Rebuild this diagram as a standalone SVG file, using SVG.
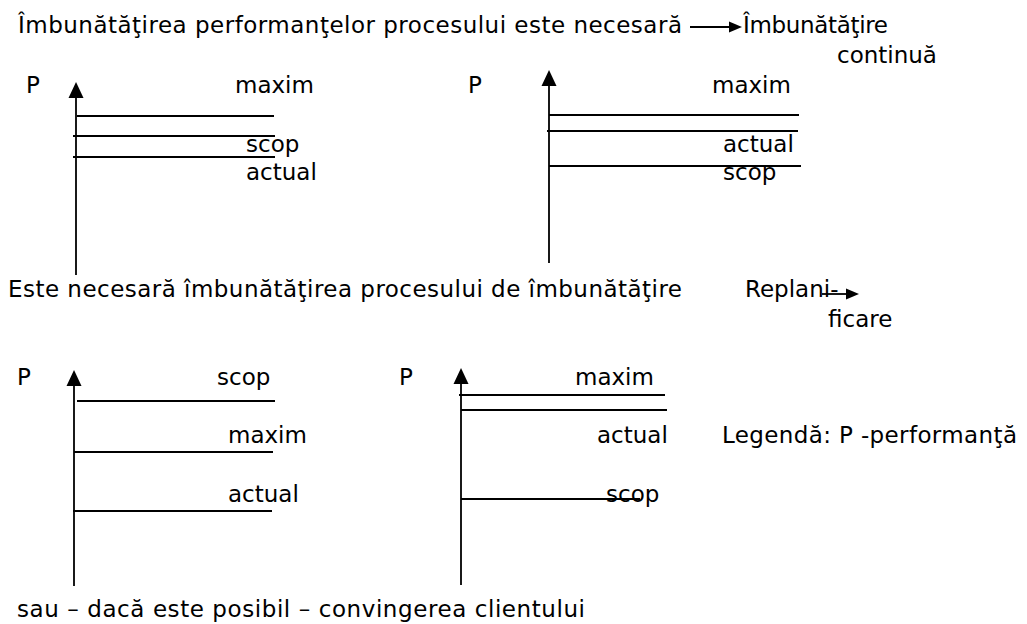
<svg xmlns="http://www.w3.org/2000/svg" width="1027" height="624" viewBox="0 0 1027 624">
<style>
text{font-family:"DejaVu Sans","Liberation Sans",sans-serif;font-size:23px;fill:#000}
.ln{stroke:#000;stroke-width:1.8;fill:none}
.ax{stroke:#000;stroke-width:1.8;fill:none;marker-end:url(#ah)}
.ar{stroke:#000;stroke-width:1.8;fill:none;marker-end:url(#sa)}
</style>
<defs>
<marker id="ah" markerUnits="userSpaceOnUse" markerWidth="16" markerHeight="15" refX="0" refY="7.5" orient="auto" overflow="visible"><path d="M0,0 L16,7.5 L0,15 z" fill="#000"/></marker>
<marker id="sa" markerUnits="userSpaceOnUse" markerWidth="13" markerHeight="11" refX="0" refY="5.5" orient="auto" overflow="visible"><path d="M0,0 L13,5.5 L0,11 z" fill="#000"/></marker>
</defs>
<rect width="1027" height="624" fill="#fff"/>

<g id="header">
<text x="18" y="33" textLength="664" lengthAdjust="spacing">Îmbunătăţirea performanţelor procesului este necesară</text>
<text x="743" y="33" textLength="145" lengthAdjust="spacing">Îmbunătăţire</text>
<text x="837" y="63">continuă</text>
</g>

<g id="chart1">
<text x="26" y="93">P</text>
<line class="ax" x1="76" y1="275" x2="76" y2="98"/>
<line class="ln" x1="77" y1="116" x2="274" y2="116"/>
<line class="ln" x1="73" y1="136" x2="275" y2="136"/>
<line class="ln" x1="73" y1="157" x2="275" y2="157"/>
<text x="235" y="93">maxim</text>
<text x="246" y="152">scop</text>
<text x="246" y="180">actual</text>
</g>

<g id="chart2">
<text x="468" y="93">P</text>
<line class="ax" x1="549" y1="263" x2="549" y2="86"/>
<line class="ln" x1="549" y1="115" x2="799" y2="115"/>
<line class="ln" x1="547" y1="131" x2="798" y2="131"/>
<line class="ln" x1="549" y1="166" x2="801" y2="166"/>
<text x="712" y="93">maxim</text>
<text x="723" y="152">actual</text>
<text x="723" y="180">scop</text>
</g>

<g id="middle">
<text x="8" y="297" textLength="674" lengthAdjust="spacing">Este necesară îmbunătăţirea procesului de îmbunătăţire</text>
<text x="745" y="297">Replani-</text>
<text x="828" y="327">ficare</text>
</g>

<g id="chart3">
<text x="17" y="385">P</text>
<line class="ax" x1="74" y1="586" x2="74" y2="386"/>
<line class="ln" x1="77" y1="401" x2="275" y2="401"/>
<line class="ln" x1="74" y1="452" x2="273" y2="452"/>
<line class="ln" x1="73" y1="511" x2="272" y2="511"/>
<text x="217" y="385">scop</text>
<text x="228" y="443">maxim</text>
<text x="228" y="502">actual</text>
</g>

<g id="chart4">
<text x="399" y="385">P</text>
<line class="ax" x1="461" y1="585" x2="461" y2="384"/>
<line class="ln" x1="459" y1="395" x2="665" y2="395"/>
<line class="ln" x1="461" y1="410" x2="667" y2="410"/>
<line class="ln" x1="461" y1="499" x2="640" y2="499"/>
<text x="575" y="385">maxim</text>
<text x="597" y="443">actual</text>
<text x="606" y="502">scop</text>
</g>

<g id="legend">
<text x="722" y="443" textLength="295" lengthAdjust="spacing">Legendă: P -performanţă</text>
</g>

<g id="footer">
<text x="17" y="617" textLength="568" lengthAdjust="spacing">sau – dacă este posibil – convingerea clientului</text>
</g>

<g id="connectors">
<line class="ar" x1="690" y1="27" x2="729" y2="27"/>
<line class="ar" x1="822" y1="294" x2="846" y2="294"/>
</g>
</svg>
